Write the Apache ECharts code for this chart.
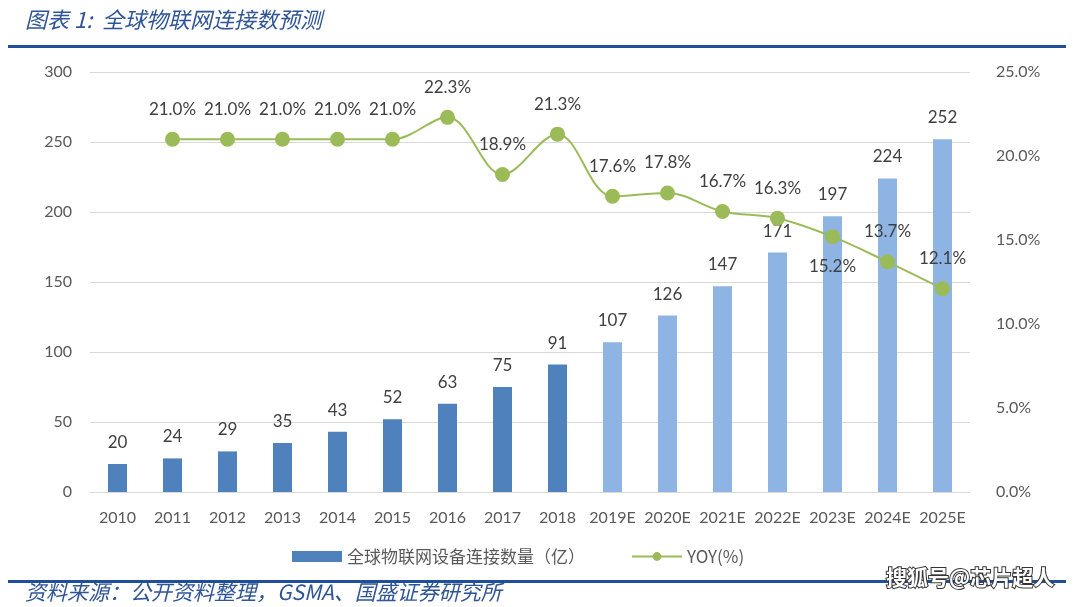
<!DOCTYPE html>
<html><head><meta charset="utf-8">
<script src="https://cdn.jsdelivr.net/npm/echarts@6/dist/echarts.min.js"></script>
<style>html,body{margin:0;padding:0;background:#fff}#c{width:1080px;height:607px}</style>
</head><body><div id="c"></div>
<script>
const categories = ['2010','2011','2012','2013','2014','2015','2016','2017','2018','2019E','2020E','2021E','2022E','2023E','2024E','2025E'];
const connections = [20,24,29,35,43,52,63,75,91,107,126,147,171,197,224,252];
const yoy = [null,21.0,21.0,21.0,21.0,21.0,22.3,18.9,21.3,17.6,17.8,16.7,16.3,15.2,13.7,12.1];
const leftTicks = [0,50,100,150,200,250,300];
const rightTicks = [0,5,10,15,20,25];
const forecastStart = 9;
const labelBelowIndex = [13];

const numFont = 'Lato, "Open Sans", sans-serif';
const cjk = '"Noto Sans CJK SC", sans-serif';
const DARK = '#4F81BD', LIGHT = '#8EB4E3', GREEN = '#9BBB59';

const chart = echarts.init(document.getElementById('c'), null, {renderer:'canvas'});
chart.setOption({
  animation:false,
  backgroundColor:'#fff',
  grid:{left:90,right:110,top:72,bottom:115,containLabel:false},
  legend:{
    top:543,left:287,itemGap:46,itemWidth:50,itemHeight:11,
    textStyle:{color:'#595959',fontSize:17,fontFamily:cjk},
    data:[
      {name:'全球物联网设备连接数量（亿）',icon:'rect',itemStyle:{color:DARK}},
      {name:'YOY(%)'}
    ]
  },
  xAxis:{
    type:'category',data:categories,
    axisLine:{lineStyle:{color:'#D9D9D9'}},axisTick:{show:false},
    axisLabel:{color:'#595959',fontSize:16,fontFamily:numFont,margin:18,interval:0}
  },
  yAxis:[
    {type:'value',min:leftTicks[0],max:leftTicks[leftTicks.length-1],interval:50,
     axisLine:{show:false},axisTick:{show:false},
     axisLabel:{color:'#595959',fontSize:16,fontFamily:numFont,margin:18},
     splitLine:{lineStyle:{color:'#D9D9D9',width:1}}},
    {type:'value',min:rightTicks[0],max:rightTicks[rightTicks.length-1],interval:5,
     axisLine:{show:false},axisTick:{show:false},splitLine:{show:false},
     axisLabel:{color:'#595959',fontSize:16,fontFamily:numFont,margin:26,
       formatter:v=>v.toFixed(1)+'%'}}
  ],
  series:[
    {name:'全球物联网设备连接数量（亿）',type:'bar',barWidth:19,
     data:connections.map((v,i)=>({value:v,itemStyle:{color:i<forecastStart?DARK:LIGHT}})),
     label:{show:true,position:'top',distance:13,color:'#404040',fontSize:17,fontFamily:numFont}},
    {name:'YOY(%)',type:'line',yAxisIndex:1,smooth:0.35,
     symbol:'circle',symbolSize:15,
     lineStyle:{color:GREEN,width:2},itemStyle:{color:GREEN},
     data:yoy.map((v,i)=>({value:v,label:{position:labelBelowIndex.includes(i)?'bottom':'top'}})),
     label:{show:true,distance:14,color:'#404040',fontSize:17,fontFamily:numFont,
       formatter:p=>p.value==null?'':p.value.toFixed(1)+'%'}}
  ],
  graphic:[
    {type:'text',left:25,top:9,style:{text:'图表 1:  全球物联网连接数预测',fill:'#2F5597',
      font:'italic 22px "Noto Sans CJK SC", serif'}},
    {type:'rect',shape:{x:8,y:45,width:1058,height:3},style:{fill:'#1F4E9A'}},
    {type:'rect',shape:{x:8,y:580,width:1058,height:3},style:{fill:'#1F4E9A'}},
    {type:'text',left:25,top:582,style:{text:'资料来源：公开资料整理，GSMA、国盛证券研究所',fill:'#2F5597',
      font:'italic 21px "Noto Sans CJK SC", serif'}},
    {type:'text',left:885,top:566,style:{text:'搜狐号@芯片超人',fill:'#fff',stroke:'#333',lineWidth:2,
      font:'bold 21px "Noto Sans CJK SC", sans-serif'}}
  ]
});
</script></body></html>
